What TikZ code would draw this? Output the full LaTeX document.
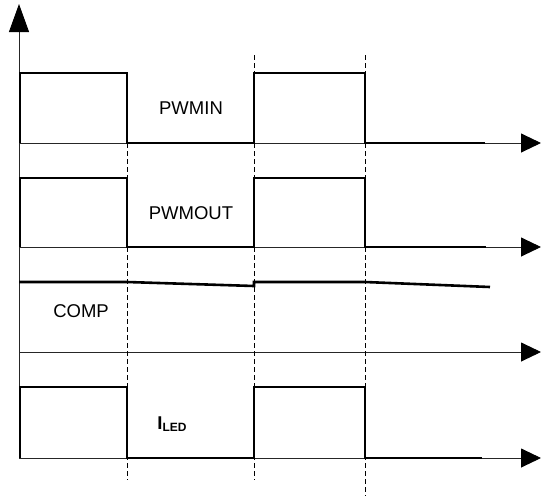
\documentclass[tikz,border=0pt]{standalone}
\usepackage{fontspec}
\setmainfont{Liberation Sans}
\usetikzlibrary{arrows.meta}
\begin{document}
\begin{tikzpicture}[x=1pt,y=-1pt,
  axis/.style={draw=black!85,line width=0.9pt,-{Triangle[length=20pt,width=19pt,color=black]}},
  wave/.style={draw=black,line width=2.6pt,line join=miter,line cap=butt},
  guide/.style={draw=black,line width=0.9pt,dash pattern=on 5pt off 3pt},
  lbl/.style={font=\fontsize{18.5}{20}\selectfont,inner sep=0pt}]
\useasboundingbox (0,0) rectangle (541,496);
% coordinates
\coordinate (o) at (19,458);
\coordinate (ytip) at (19,4);
\coordinate (a1) at (19,143); \coordinate (a1e) at (541,143);
\coordinate (a2) at (19,247); \coordinate (a2e) at (541,247);
\coordinate (a3) at (19,352); \coordinate (a3e) at (541,352);
\coordinate (a4) at (19,458); \coordinate (a4e) at (541,458);
% axes
\draw[draw=black!85,line width=0.9pt,-{Triangle[length=28pt,width=20pt,color=black]}] (o) -- (ytip);
\draw[axis] (a1) -- (a1e);
\draw[axis] (a2) -- (a2e);
\draw[axis] (a3) -- (a3e);
\draw[axis] (a4) -- (a4e);
% dashed guides
\coordinate (g1t) at (127,143); \coordinate (g1b) at (127,480);
\coordinate (g2t) at (254,55); \coordinate (g2b) at (254,480);
\coordinate (g3t) at (365,55); \coordinate (g3b) at (365,496);
\draw[guide] (g1t) -- (g1b);
\draw[guide] (g2t) -- (g2b);
\draw[guide] (g3t) -- (g3b);
% PWMIN
\draw[wave] (20,143) -- (20,73) -- (127,73) -- (127,143) -- (254,143) -- (254,73) -- (365,73) -- (365,143) -- (485,143);
% PWMOUT
\draw[wave] (20,247) -- (20,178) -- (127,178) -- (127,247) -- (254,247) -- (254,178) -- (365,178) -- (365,247) -- (486,247);
% COMP
\draw[wave] (19,282) -- (127,282) -- (254,286) -- (254,282) -- (365,282) -- (490,287);
% ILED
\draw[wave] (20,458) -- (20,387) -- (127,387) -- (127,458) -- (254,458) -- (254,387) -- (365,387) -- (365,458) -- (482,458);
% labels
\node[lbl] (pwmin) at (191,108) {PWMIN};
\node[lbl] (pwmout) at (191,213) {PWMOUT};
\node[lbl] (comp) at (81,311) {COMP};
\node[lbl,font=\fontsize{18.5}{20}\selectfont\bfseries] (iled) at (172,424) {I\raisebox{-0.25ex}{\fontsize{12}{13}\selectfont\bfseries LED}};
\end{tikzpicture}
\end{document}
